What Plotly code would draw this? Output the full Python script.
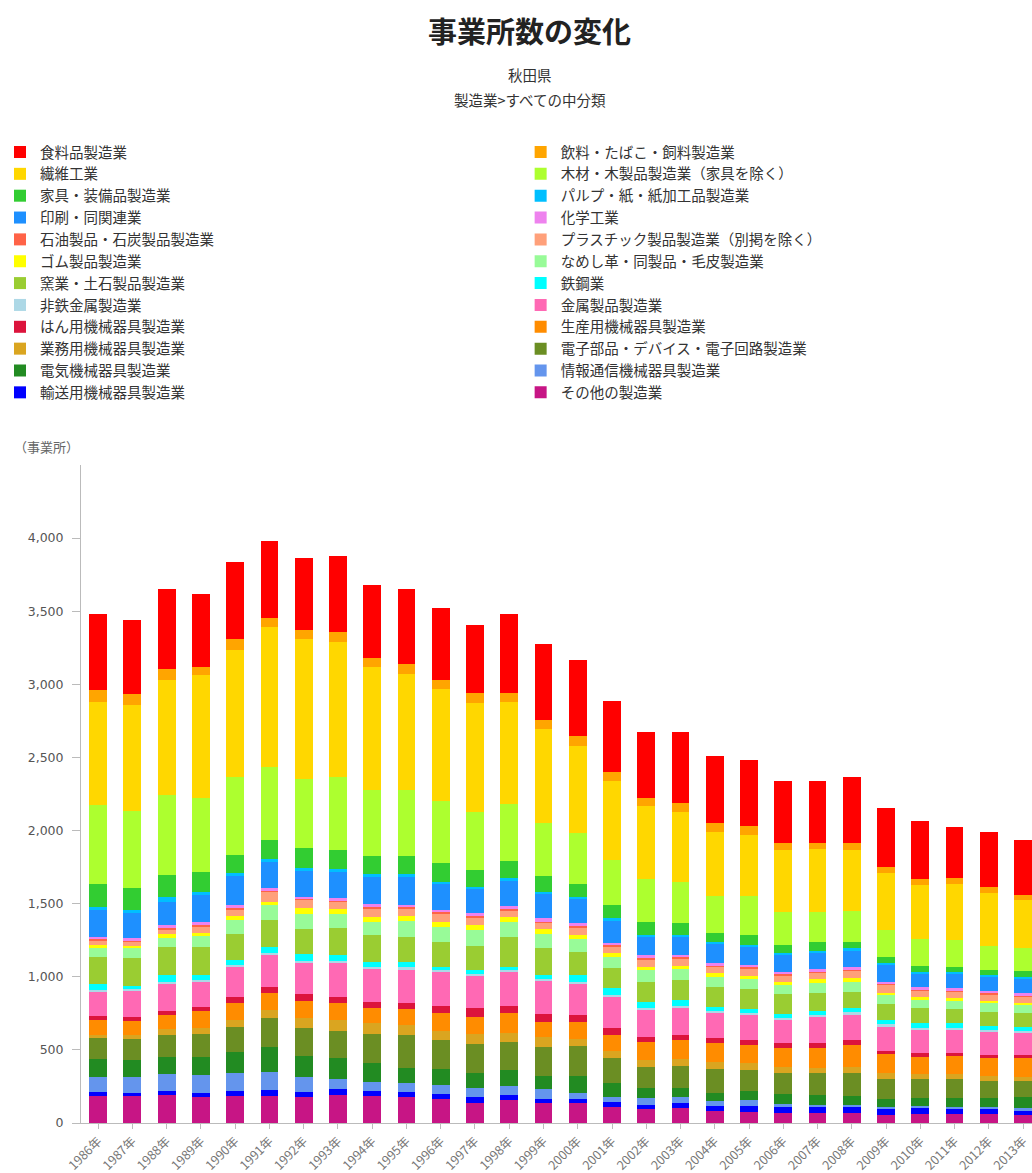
import plotly.graph_objects as go

CJK = "Noto Sans CJK JP"

years = ["1986年", "1987年", "1988年", "1989年", "1990年", "1991年", "1992年",
         "1993年", "1994年", "1995年", "1996年", "1997年", "1998年", "1999年",
         "2000年", "2001年", "2002年", "2003年", "2004年", "2005年", "2006年",
         "2007年", "2008年", "2009年", "2010年", "2011年", "2012年", "2013年"]

# establishments per industry, 1986-2013
food = [518, 506, 545, 501, 531, 524, 490, 518, 496, 515, 490, 471, 536, 520, 520, 485, 456, 486, 460, 451, 429, 421, 451, 398, 401, 353, 380, 376]
beverage = [79, 75, 75, 57, 69, 64, 64, 68, 62, 66, 64, 64, 61, 63, 68, 61, 53, 61, 57, 62, 45, 46, 45, 46, 39, 41, 37, 34]
textile = [707, 725, 786, 843, 875, 957, 957, 928, 843, 793, 761, 745, 700, 639, 598, 543, 501, 479, 440, 417, 422, 426, 415, 387, 371, 381, 365, 331]
lumber = [542, 529, 549, 502, 531, 501, 472, 497, 452, 452, 424, 399, 387, 364, 348, 308, 289, 280, 255, 267, 228, 205, 212, 183, 183, 182, 164, 155]
furniture = [153, 148, 151, 136, 120, 132, 137, 132, 123, 123, 130, 114, 121, 107, 85, 91, 92, 85, 57, 68, 57, 62, 46, 41, 38, 39, 34, 43]
pulp = [23, 18, 30, 23, 23, 16, 16, 16, 18, 13, 11, 18, 12, 12, 18, 11, 11, 11, 12, 11, 11, 13, 11, 16, 12, 11, 11, 14]
printing = [182, 171, 159, 182, 199, 183, 178, 182, 187, 199, 183, 164, 177, 171, 164, 155, 125, 125, 136, 126, 114, 114, 119, 114, 95, 98, 96, 95]
chemical = [16, 19, 22, 22, 21, 15, 12, 16, 21, 15, 15, 20, 20, 21, 20, 16, 22, 16, 16, 16, 16, 16, 15, 15, 16, 16, 16, 16]
petroleum = [7, 8, 8, 8, 8, 7, 6, 7, 8, 7, 7, 8, 8, 8, 7, 7, 8, 7, 7, 7, 7, 7, 7, 7, 7, 7, 7, 7]
plastic = [34, 30, 34, 46, 46, 69, 61, 52, 57, 53, 57, 52, 50, 46, 53, 50, 50, 53, 46, 52, 46, 46, 53, 53, 46, 46, 46, 41]
rubber = [23, 16, 23, 22, 27, 23, 39, 32, 34, 32, 39, 34, 29, 32, 29, 27, 23, 22, 22, 23, 22, 23, 23, 16, 18, 16, 18, 16]
leather = [61, 68, 66, 78, 96, 102, 105, 98, 92, 109, 98, 110, 108, 98, 85, 76, 80, 73, 69, 68, 62, 72, 68, 61, 57, 59, 57, 57]
ceramic = [183, 189, 189, 189, 178, 182, 171, 182, 182, 171, 171, 164, 200, 182, 159, 136, 136, 137, 137, 137, 137, 119, 114, 110, 103, 96, 98, 91]
iron = [40, 22, 45, 34, 33, 43, 43, 43, 34, 39, 24, 24, 24, 29, 45, 45, 41, 38, 30, 22, 26, 30, 28, 30, 30, 30, 28, 30]
nonferrous = [12, 10, 12, 12, 12, 14, 14, 14, 12, 13, 10, 10, 10, 10, 12, 12, 12, 12, 11, 10, 10, 11, 11, 11, 11, 11, 11, 11]
metal = [164, 178, 187, 171, 205, 217, 216, 228, 232, 228, 235, 228, 235, 228, 217, 217, 191, 189, 175, 178, 164, 178, 178, 168, 159, 159, 159, 153]
general_machine = [30, 30, 27, 27, 41, 41, 44, 46, 41, 46, 46, 57, 46, 52, 45, 45, 30, 35, 34, 34, 35, 39, 34, 23, 27, 23, 23, 23]
production_machine = [104, 95, 101, 121, 119, 118, 120, 114, 103, 107, 123, 121, 136, 103, 121, 107, 125, 132, 126, 120, 129, 136, 152, 132, 119, 123, 121, 125]
business_machine = [17, 28, 41, 39, 46, 57, 69, 73, 73, 68, 64, 66, 62, 68, 45, 53, 46, 45, 52, 51, 41, 34, 37, 41, 36, 36, 32, 28]
electronic = [148, 143, 150, 159, 170, 199, 189, 189, 200, 228, 200, 196, 194, 201, 206, 171, 148, 153, 160, 141, 142, 149, 159, 137, 130, 130, 120, 114]
electrical = [118, 114, 116, 121, 144, 166, 146, 143, 125, 98, 107, 107, 109, 91, 113, 91, 68, 62, 54, 64, 68, 68, 62, 50, 53, 57, 57, 75]
telecom = [103, 109, 112, 121, 123, 125, 98, 69, 62, 62, 62, 62, 62, 68, 46, 34, 46, 41, 37, 41, 23, 16, 16, 19, 16, 19, 19, 16]
transport = [29, 23, 30, 31, 36, 41, 34, 39, 36, 34, 36, 41, 34, 28, 28, 34, 30, 34, 32, 39, 36, 36, 41, 38, 38, 31, 31, 29]
other = [185, 185, 191, 176, 185, 185, 180, 191, 185, 180, 162, 134, 157, 134, 134, 112, 93, 100, 84, 77, 71, 71, 66, 55, 62, 62, 62, 55]

# legend order (top of stack first)
series = [
    ("食料品製造業", food, "#FF0000"),
    ("飲料・たばこ・飼料製造業", beverage, "#FFA500"),
    ("繊維工業", textile, "#FFD700"),
    ("木材・木製品製造業（家具を除く）", lumber, "#ADFF2F"),
    ("家具・装備品製造業", furniture, "#32CD32"),
    ("パルプ・紙・紙加工品製造業", pulp, "#00BFFF"),
    ("印刷・同関連業", printing, "#1E90FF"),
    ("化学工業", chemical, "#EE82EE"),
    ("石油製品・石炭製品製造業", petroleum, "#FF6347"),
    ("プラスチック製品製造業（別掲を除く）", plastic, "#FFA07A"),
    ("ゴム製品製造業", rubber, "#FFFF00"),
    ("なめし革・同製品・毛皮製造業", leather, "#98FB98"),
    ("窯業・土石製品製造業", ceramic, "#9ACD32"),
    ("鉄鋼業", iron, "#00FFFF"),
    ("非鉄金属製造業", nonferrous, "#ADD8E6"),
    ("金属製品製造業", metal, "#FF69B4"),
    ("はん用機械器具製造業", general_machine, "#DC143C"),
    ("生産用機械器具製造業", production_machine, "#FF8C00"),
    ("業務用機械器具製造業", business_machine, "#DAA520"),
    ("電子部品・デバイス・電子回路製造業", electronic, "#6B8E23"),
    ("電気機械器具製造業", electrical, "#228B22"),
    ("情報通信機械器具製造業", telecom, "#6495ED"),
    ("輸送用機械器具製造業", transport, "#0000FF"),
    ("その他の製造業", other, "#C71585"),
]

for _, vals, _ in series:
    assert len(vals) == len(years)

fig = go.Figure()
# stack from the bottom: last legend entry first
for idx in range(len(series) - 1, -1, -1):
    name, vals, color = series[idx]
    fig.add_trace(go.Bar(
        x=years, y=vals, name=name,
        marker=dict(color=color, line=dict(width=0)),
        legend="legend" if idx % 2 == 0 else "legend2",
    ))

legend_common = dict(
    xref="container", yref="container", yanchor="top", xanchor="left",
    orientation="v", traceorder="reversed",
    font=dict(family=CJK, size=14.5, color="#333333"),
    bgcolor="rgba(0,0,0,0)", borderwidth=0,
)

fig.update_layout(
    width=1032, height=1173,
    margin=dict(l=81, r=0, t=465, b=50, autoexpand=False),
    paper_bgcolor="white", plot_bgcolor="white",
    barmode="stack", bargap=0.48,
    title=dict(text="<b>事業所数の変化</b>", x=0.513, xanchor="center",
               y=1 - 33 / 1173, yanchor="middle",
               font=dict(family=CJK, size=29, color="#222222")),
    legend=dict(x=0.0, y=0.884, **legend_common),
    legend2=dict(x=0.5045, y=0.884, **legend_common),
    xaxis=dict(
        type="category", range=[-0.5, 27.26],
        showline=True, linecolor="#BBBBBB", linewidth=1,
        ticks="outside", ticklen=5, tickcolor="#BBBBBB",
        tickangle=-45, showgrid=False,
        tickfont=dict(family=CJK, size=12.5, color="#777777"),
    ),
    yaxis=dict(
        range=[0, 4500], tickvals=[0, 500, 1000, 1500, 2000, 2500, 3000, 3500, 4000],
        tickformat=",", showline=True, linecolor="#BBBBBB", linewidth=1,
        ticks="outside", ticklen=8, tickcolor="#BBBBBB",
        showgrid=False, zeroline=False, ticklabelstandoff=6,
        tickfont=dict(family="DejaVu Sans", size=12.5, color="#555555"),
    ),
    annotations=[
        dict(text="秋田県", xref="paper", yref="paper", x=(530 - 81) / 951,
             y=(1123 - 74) / 658, xanchor="center", yanchor="middle", showarrow=False,
             font=dict(family=CJK, size=14.5, color="#333333")),
        dict(text="製造業>すべての中分類", xref="paper", yref="paper", x=(530 - 81) / 951,
             y=(1123 - 99) / 658, xanchor="center", yanchor="middle", showarrow=False,
             font=dict(family=CJK, size=14.5, color="#333333")),
        dict(text="（事業所）", xref="paper", yref="paper", x=(12 - 81) / 951,
             y=(1123 - 447) / 658, xanchor="left", yanchor="middle", showarrow=False,
             font=dict(family=CJK, size=13, color="#666666")),
    ],
)

fig.write_html("out.html")
